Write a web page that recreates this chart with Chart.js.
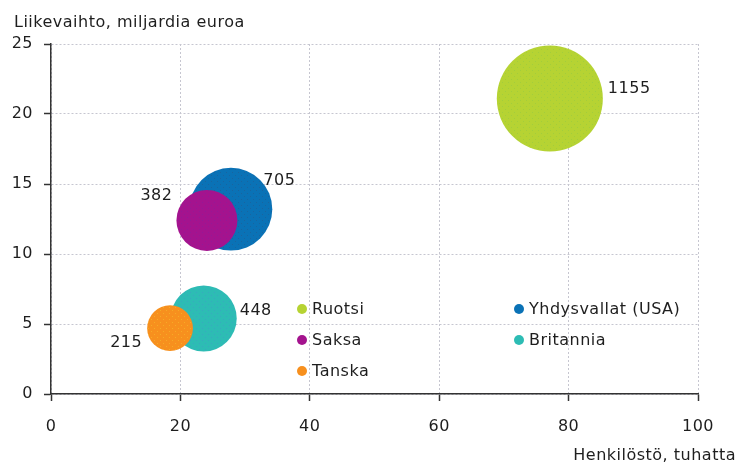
<!DOCTYPE html>
<html>
<head>
<meta charset="utf-8">
<script src="https://cdn.jsdelivr.net/npm/chart.js@4/dist/chart.umd.min.js"></script>
<style>
html, body { margin: 0; padding: 0; background: #fff; }
</style>
</head>
<body>
<canvas id="kuplaChart" width="738" height="463"></canvas>
<script>
// Data
const maat = ['Ruotsi', 'Yhdysvallat (USA)', 'Saksa', 'Britannia', 'Tanska'];
const henkilosto = [77.1, 27.8, 24.1, 23.6, 18.4];   // x, tuhatta
const liikevaihto = [21.1, 13.2, 12.4, 5.4, 4.7];     // y, miljardia euroa
const yrityksia = [1155, 705, 382, 448, 215];         // kuplan koko + tunniste
const xTicks = [0, 20, 40, 60, 80, 100];
const yTicks = [0, 5, 10, 15, 20, 25];

const perusvarit = ['#b6d333', '#0a72b6', '#a4138e', '#2dbcb4', '#f7901e'];
const pistevarit = ['#a2cd3c', '#19649f', '#931a96', '#38a9bf', '#f6ab26'];

const tekstivari = '#1e1e1e';
const fontti = '"DejaVu Sans", Verdana, sans-serif';
const koko = 16;

function pisteKuvio(pohja, piste) {
    const c = document.createElement('canvas');
    c.width = 6; c.height = 6;
    const g = c.getContext('2d');
    g.fillStyle = pohja;
    g.fillRect(0, 0, 6, 6);
    g.fillStyle = piste;
    g.fillRect(1, 1, 1, 1);
    g.fillRect(4, 4, 1, 1);
    return g.createPattern(c, 'repeat');
}

// label offsets relative to bubble centre (alphabetic baseline)
function tunnisteenPaikka(i, r) {
    switch (i) {
        case 0: return { x: r + 5, y: -6, align: 'left' };
        case 1: return { x: r - 9, y: -24, align: 'left' };
        case 2: return { x: -(r + 4), y: -20, align: 'right' };
        case 3: return { x: r + 3, y: -3, align: 'left' };
        default: return { x: -(r + 5), y: 19, align: 'right' };
    }
}

const piirtoPlugin = {
    id: 'piirto',
    beforeDraw(chart) {
        chart.ctx.letterSpacing = '0.5px';
    },
    afterDatasetsDraw(chart) {
        const ctx = chart.ctx;
        ctx.save();
        ctx.font = koko + 'px ' + fontti;
        ctx.fillStyle = tekstivari;
        ctx.textBaseline = 'alphabetic';
        chart.data.datasets.forEach(function(ds, i) {
            const el = chart.getDatasetMeta(i).data[0];
            const r = el.options.radius;
            const p = tunnisteenPaikka(i, r);
            ctx.textAlign = p.align;
            ctx.fillText(String(yrityksia[i]), el.x + p.x, el.y + p.y);
        });
        ctx.restore();
    },
    afterDraw(chart) {
        const ctx = chart.ctx;
        ctx.save();
        ctx.font = koko + 'px ' + fontti;
        ctx.fillStyle = tekstivari;
        ctx.textBaseline = 'alphabetic';
        ctx.textAlign = 'left';
        ctx.fillText('Liikevaihto, miljardia euroa', 14, 27);
        ctx.textAlign = 'right';
        ctx.fillText('Henkilöstö, tuhatta', 736, 460);

        // legend inside the plot
        const paikat = [[302, 309], [519, 309], [302, 340], [519, 340], [302, 371]];
        ctx.textAlign = 'left';
        ctx.textBaseline = 'middle';
        maat.forEach(function(nimi, i) {
            const [lx, ly] = paikat[i];
            ctx.beginPath();
            ctx.arc(lx, ly, 5, 0, Math.PI * 2);
            ctx.fillStyle = perusvarit[i];
            ctx.fill();
            ctx.fillStyle = tekstivari;
            ctx.fillText(nimi, lx + 10, ly + 1);
        });
        ctx.restore();
    }
};

function nollaaPadding(s) {
    s.paddingLeft = 0;
    s.paddingRight = 0;
    s.paddingTop = 0;
    s.paddingBottom = 0;
}

document.addEventListener('DOMContentLoaded', function() {
    const ctx = document.getElementById('kuplaChart').getContext('2d');

    Chart.defaults.font.family = fontti;
    Chart.defaults.font.size = koko;
    Chart.defaults.color = tekstivari;

    const akseli = {
        grid: {
            color: '#c6c6d0',
            lineWidth: 1,
            tickLength: 7,
            tickColor: '#333',
            tickWidth: 1.5
        },
        border: {
            display: true,
            color: '#333',
            width: 1.5,
            dash: [2, 2]
        }
    };

    new Chart(ctx, {
        type: 'bubble',
        data: {
            datasets: maat.map(function(nimi, i) {
                return {
                    label: nimi,
                    data: [{ x: henkilosto[i], y: liikevaihto[i], r: 1.56 * Math.sqrt(yrityksia[i]) }],
                    backgroundColor: pisteKuvio(perusvarit[i], pistevarit[i]),
                    borderWidth: 0,
                    clip: false,
                    order: maat.length - i
                };
            })
        },
        options: {
            responsive: false,
            animation: false,
            events: [],
            layout: {
                autoPadding: false,
                padding: { top: 44, right: 40, left: 0, bottom: 0 }
            },
            plugins: {
                legend: { display: false },
                tooltip: { enabled: false }
            },
            scales: {
                x: Object.assign({}, akseli, {
                    type: 'linear',
                    min: 0,
                    max: 100,
                    afterBuildTicks: function(s) { s.ticks = xTicks.map(v => ({ value: v })); },
                    afterFit: function(s) { s.height = 69; nollaaPadding(s); },
                    ticks: { padding: 16, maxRotation: 0 }
                }),
                y: Object.assign({}, akseli, {
                    type: 'linear',
                    min: 0,
                    max: 25,
                    afterBuildTicks: function(s) { s.ticks = yTicks.map(v => ({ value: v })); },
                    afterFit: function(s) { s.width = 51; nollaaPadding(s); },
                    ticks: { padding: 11 }
                })
            }
        },
        plugins: [piirtoPlugin]
    });
});
</script>
</body>
</html>
